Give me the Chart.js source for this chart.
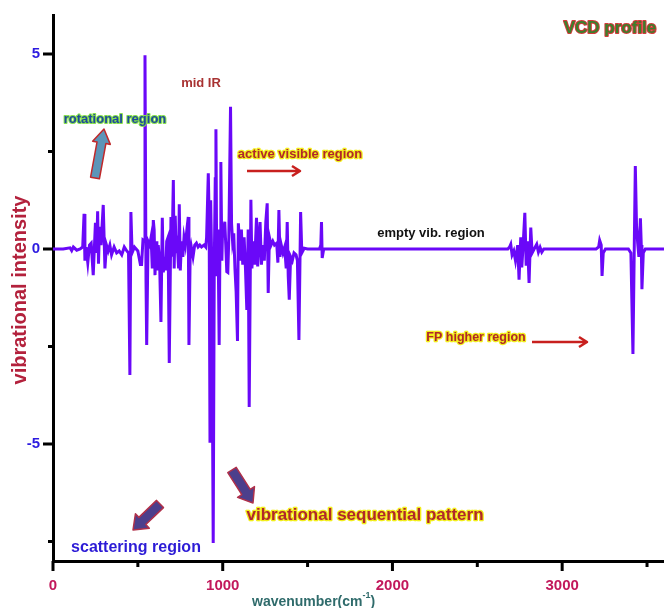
<!DOCTYPE html>
<html>
<head>
<meta charset="utf-8">
<script src="https://cdn.jsdelivr.net/npm/chart.js@4.4.1/dist/chart.umd.min.js"></script>
<style>
    html, body { margin: 0; padding: 0; background: #ffffff; }
    #chart { display: block; }
</style>
</head>
<body>
<canvas id="chart" width="664" height="608"></canvas>
<script>
// VCD spectrum (wavenumber in cm-1, intensity)
const wavenumbers = [
    0, 60, 100, 110, 120, 140, 160, 175, 183, 188, 195, 205, 215, 225, 237, 250, 257, 263, 268, 274,
    283, 296, 306, 315, 325, 335, 345, 360, 375, 390, 405, 420, 435, 445, 453, 459, 466, 480, 500, 515,
    522, 530, 538, 542, 548, 552, 560, 570, 578, 585, 591, 596, 601, 607, 612, 620, 628, 636, 644, 650,
    657, 664, 670, 678, 685, 695, 701, 709, 714, 720, 726, 733, 740, 744, 750, 757, 765, 772, 780, 790,
    797, 801, 808, 815, 825, 835, 845, 855, 865, 875, 890, 900, 905, 915, 920, 925, 929, 935, 944, 950,
    956, 960, 965, 972, 979, 984, 989, 995, 1000, 1006, 1012, 1018, 1024, 1030, 1036, 1046, 1052, 1058, 1065, 1072,
    1079, 1087, 1092, 1098, 1104, 1110, 1118, 1126, 1134, 1142, 1150, 1156, 1166, 1172, 1180, 1188, 1199, 1206, 1214, 1220,
    1228, 1236, 1245, 1254, 1262, 1268, 1275, 1285, 1295, 1305, 1318, 1325, 1331, 1337, 1345, 1355, 1365, 1374, 1380, 1386,
    1392, 1400, 1410, 1420, 1432, 1440, 1449, 1459, 1466, 1480, 1500, 1570, 1578, 1582, 1586, 1595, 2680, 2690, 2697, 2705,
    2715, 2725, 2738, 2746, 2756, 2762, 2770, 2780, 2788, 2796, 2805, 2815, 2823, 2835, 2850, 2860, 2870, 2880, 2892, 3200,
    3215, 3221, 3230, 3235, 3242, 3255, 3390, 3405, 3417, 3425, 3431, 3438, 3445, 3452, 3461, 3466, 3470, 3478, 3490, 3600
];
const intensities = [
    0, 0, 0.03, -0.04, 0.05, -0.03, 0, 0.05, 0.9, -0.3, 0.05, -0.35, 0.1, 0.15, -0.67, 0.67, -0.1, 0.97, -0.38, 0.57,
    0.1, 1.13, -0.5, 0.1, -0.05, 0.1, -0.15, 0.05, -0.1, -0.05, -0.15, 0.05, -0.05, -0.1, -3.23, 0.95, -0.1, 0.05, -0.05, -0.4,
    -0.4, 0.23, 0.2, 4.97, -0.8, -2.46, 0.2, 0.1, 0.3, -0.5, 0.74, 0.49, -0.67, 0.2, -0.55, 0.1, -0.3, -1.87, 0.8, -0.6,
    -0.2, -0.55, 0.2, 0.3, -2.92, 0.82, -0.2, 1.77, -0.5, 0.85, -0.1, 0.1, -0.5, 1.15, -0.55, 0.2, -0.2, 0.3, 0.1, 0.55,
    0.82, -2.46, -0.2, 0.05, -0.2, 0.1, 0.15, 0.05, 0.1, 0.05, 0.1, 0.05, 0.3, 1.94, 0.8, -4.97, 1.25, -0.3, -7.54, -0.5,
    1.8, 3.07, -0.7, 0.5, -2.46, 0.2, 2.23, -0.3, 0.66, 0.3, 0.7, 0.1, -0.58, -0.6, 0.3, 3.65, 0.66, 0.2, 0.4, -0.5,
    -1.1, -2.36, 0.66, 0.2, -0.3, 0.5, -0.4, 0.3, -0.5, -1.56, 0.5, -4.05, 1.26, -0.5, 0.2, -0.4, 0.8, -0.45, 0.3, 0.69,
    -0.4, 0.1, -0.3, 0.7, 1.17, -1.13, 0.3, 0.1, 0.2, 0.1, 0.15, -0.35, 1.0, -0.2, 0.1, -0.1, 0.05, -0.5, 0.69, -0.7,
    -1.3, -0.2, -0.3, -0.1, -0.15, -0.3, -2.33, 0.95, -0.1, 0.02, 0, 0, 0.1, 0.69, -0.23, 0, 0, 0.05, 0.12, -0.15,
    -0.05, -0.3, 0.1, -0.79, 0.3, -0.47, 0.1, 0.93, -0.43, 0.2, -0.87, 0.55, -0.1, 0, 0.12, -0.08, 0.04, -0.08, 0, 0,
    0.05, 0.22, 0.1, -0.69, -0.1, 0, 0, -0.1, -2.69, 0.1, 2.13, 0.6, 0.15, -0.2, 0.79, 0.1, -1.03, -0.1, 0, 0
];

const xMajorTicks = [0, 1000, 2000, 3000];
const xMinorTicks = [500, 1500, 2500, 3500];
const yMajorTicks = [-5, 0, 5];
const yMinorTicks = [-7.5, -2.5, 2.5];

const FONT = "'Liberation Sans', Arial, sans-serif";

function haloText(ctx, text, x, y, size, fill, halo, haloWidth) {
    ctx.font = "bold " + size + "px " + FONT;
    if (halo) {
        ctx.lineJoin = "round";
        ctx.lineWidth = haloWidth || 3;
        ctx.strokeStyle = halo;
        ctx.strokeText(text, x, y);
    }
    ctx.fillStyle = fill;
    ctx.fillText(text, x, y);
}

function blockArrow(ctx, x1, y1, x2, y2, shaftW, headW, headL, fill, stroke) {
    const len = Math.hypot(x2 - x1, y2 - y1);
    const ang = Math.atan2(y2 - y1, x2 - x1);
    ctx.save();
    ctx.translate(x1, y1);
    ctx.rotate(ang);
    ctx.beginPath();
    ctx.moveTo(0, -shaftW / 2);
    ctx.lineTo(len - headL, -shaftW / 2);
    ctx.lineTo(len - headL, -headW / 2);
    ctx.lineTo(len, 0);
    ctx.lineTo(len - headL, headW / 2);
    ctx.lineTo(len - headL, shaftW / 2);
    ctx.lineTo(0, shaftW / 2);
    ctx.closePath();
    ctx.fillStyle = fill;
    ctx.fill();
    ctx.lineWidth = 1.5;
    ctx.strokeStyle = stroke;
    ctx.stroke();
    ctx.restore();
}

function lineArrow(ctx, x1, x2, y, color) {
    ctx.save();
    ctx.strokeStyle = color;
    ctx.lineWidth = 2.5;
    ctx.beginPath();
    ctx.moveTo(x1, y);
    ctx.lineTo(x2, y);
    ctx.moveTo(x2 - 8, y - 5);
    ctx.lineTo(x2, y);
    ctx.lineTo(x2 - 8, y + 5);
    ctx.stroke();
    ctx.restore();
}

const decorations = {
    id: "decorations",
    afterDraw(chart) {
        const ctx = chart.ctx;
        const xs = chart.scales.x;
        const ys = chart.scales.y;
        const area = chart.chartArea;

        // tick marks, long for major, short for minor
        ctx.save();
        ctx.strokeStyle = "#000000";
        ctx.lineWidth = 3;
        ctx.beginPath();
        xMajorTicks.forEach((v) => {
            const px = xs.getPixelForValue(v);
            ctx.moveTo(px, area.bottom);
            ctx.lineTo(px, area.bottom + 10);
        });
        xMinorTicks.forEach((v) => {
            const px = xs.getPixelForValue(v);
            ctx.moveTo(px, area.bottom);
            ctx.lineTo(px, area.bottom + 6);
        });
        yMajorTicks.forEach((v) => {
            const py = ys.getPixelForValue(v);
            ctx.moveTo(area.left, py);
            ctx.lineTo(area.left - 10, py);
        });
        yMinorTicks.forEach((v) => {
            const py = ys.getPixelForValue(v);
            ctx.moveTo(area.left, py);
            ctx.lineTo(area.left - 5, py);
        });
        ctx.stroke();

        ctx.textBaseline = "middle";

        // axis titles
        ctx.save();
        ctx.translate(20, 290);
        ctx.rotate(-Math.PI / 2);
        ctx.textAlign = "center";
        haloText(ctx, "vibrational intensity", 0, 0, 20, "#b3213c");
        ctx.restore();

        ctx.textAlign = "left";
        haloText(ctx, "wavenumber(cm", 252, 602, 14, "#2f6b6b");
        let w = ctx.measureText("wavenumber(cm").width;
        haloText(ctx, "-1", 252 + w, 596, 9, "#2f6b6b");
        const w2 = ctx.measureText("-1").width;
        haloText(ctx, ")", 252 + w + w2, 602, 14, "#2f6b6b");

        // annotations
        ctx.textAlign = "center";
        haloText(ctx, "VCD profile", 610, 28, 17, "#3c7f2c", "#d23a3a", 2);
        haloText(ctx, "mid IR", 201, 83, 13, "#a83232");
        haloText(ctx, "rotational region", 115, 119, 13, "#1f4a9c", "#86e04a", 2);
        haloText(ctx, "active visible region", 300, 154, 13, "#b0282a", "#f2ee1c", 2.5);
        haloText(ctx, "empty vib. region", 431, 233, 13, "#111111");
        haloText(ctx, "FP higher region", 476, 338, 12.5, "#b0282a", "#f2ee1c", 2.5);
        haloText(ctx, "vibrational sequential pattern", 365, 515, 17, "#b0282a", "#f2ee1c", 2.5);
        haloText(ctx, "scattering region", 136, 548, 16, "#2c1bd6");

        lineArrow(ctx, 247, 300, 171, "#c8201e");
        lineArrow(ctx, 532, 587, 342, "#c8201e");

        blockArrow(ctx, 95, 178, 104, 129, 9, 18, 14, "#5c95b8", "#c0282a");
        blockArrow(ctx, 160, 504, 133, 530, 10, 20, 13, "#4c3f8c", "#b0304a");
        blockArrow(ctx, 232, 470, 253, 503, 10, 20, 13, "#4c3f8c", "#b0304a");
        ctx.restore();
    },
};

const points = wavenumbers.map((x, i) => ({ x: x, y: intensities[i] }));

new Chart(document.getElementById("chart"), {
    type: "line",
    data: {
        datasets: [
            {
                label: "VCD",
                data: points,
                borderColor: "#6a08f8",
                borderWidth: 3,
                pointRadius: 0,
                tension: 0,
                fill: false,
            },
        ],
    },
    options: {
        responsive: false,
        animation: false,
        layout: { padding: { top: 15, right: 0, left: 0, bottom: 0 } },
        plugins: {
            legend: { display: false },
            tooltip: { enabled: false },
        },
        scales: {
            x: {
                type: "linear",
                min: 0,
                max: 3600,
                afterBuildTicks: (scale) => {
                    scale.ticks = xMajorTicks.concat(xMinorTicks).sort((a, b) => a - b).map((v) => ({ value: v }));
                },
                afterFit: (scale) => {
                    scale.height = 47;
                    scale.paddingLeft = 0;
                    scale.paddingRight = 0;
                },
                ticks: {
                    autoSkip: false,
                    maxRotation: 0,
                    padding: 16,
                    color: "#c2185b",
                    font: { family: FONT, size: 15, weight: "bold" },
                    callback: (v) => (xMajorTicks.includes(v) ? String(v) : ""),
                },
                grid: { display: true, drawOnChartArea: false, drawTicks: false },
                border: { display: true, color: "#000000", width: 3 },
            },
            y: {
                type: "linear",
                min: -8,
                max: 6,
                afterBuildTicks: (scale) => {
                    scale.ticks = yMajorTicks.concat(yMinorTicks).sort((a, b) => a - b).map((v) => ({ value: v }));
                },
                afterFit: (scale) => {
                    scale.width = 53;
                    scale.paddingTop = 0;
                    scale.paddingBottom = 0;
                },
                ticks: {
                    autoSkip: false,
                    padding: 13,
                    color: "#2d1be0",
                    font: { family: FONT, size: 15, weight: "bold" },
                    callback: (v) => (yMajorTicks.includes(v) ? String(v) : ""),
                },
                grid: { display: true, drawOnChartArea: false, drawTicks: false },
                border: { display: true, color: "#000000", width: 3 },
            },
        },
    },
    plugins: [decorations],
});
</script>
</body>
</html>
